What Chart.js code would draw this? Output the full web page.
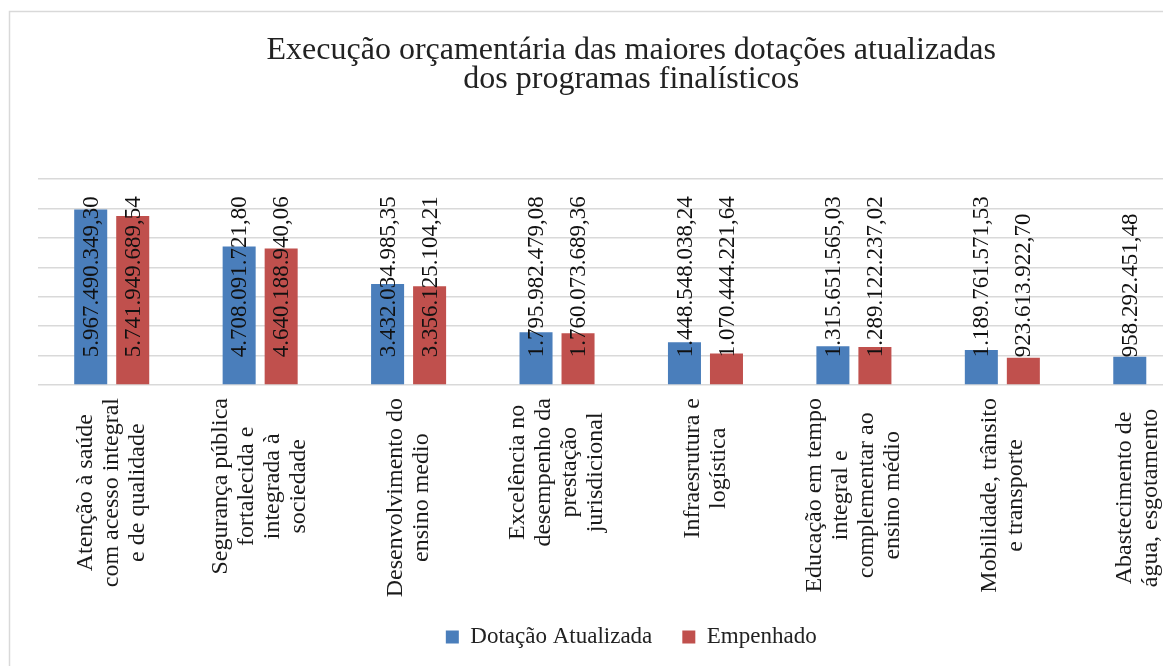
<!DOCTYPE html>
<html>
<head>
<meta charset="utf-8">
<script src="https://cdn.jsdelivr.net/npm/chart.js@4.4.0/dist/chart.umd.min.js"></script>
<style>
    html, body { margin: 0; padding: 0; background: #fff; overflow: hidden; }
    #wrap { position: absolute; left: 0; top: 0; width: 1258px; height: 666px; }
</style>
</head>
<body>
<div id="wrap"><canvas id="chart" width="1258" height="666"></canvas></div>
<script>
// categorias (cada linha do rótulo em separado)
var categories = [
    ['Atenção à saúde', 'com acesso integral', 'e de qualidade'],
    ['Segurança pública', 'fortalecida e', 'integrada à', 'sociedade'],
    ['Desenvolvimento do', 'ensino medio'],
    ['Excelência no', 'desempenho da', 'prestação', 'jurisdicional'],
    ['Infraesrutura e', 'logística'],
    ['Educação em tempo', 'integral e', 'complementar ao', 'ensino médio'],
    ['Mobilidade, trânsito', 'e transporte'],
    ['Abastecimento de', 'água, esgotamento', 'sanitário e drenagem']
];
var dotacao = [5967490349.30, 4708091721.80, 3432034985.35, 1795982479.08, 1448548038.24, 1315651565.03, 1189761571.53, 958292451.48];
var empenhado = [5741949689.54, 4640188940.06, 3356125104.21, 1760073689.36, 1070444221.64, 1289122237.02, 923613922.70, null];
var seriesNames = ['Dotação Atualizada', 'Empenhado'];
var titleLines = ['Execução orçamentária das maiores dotações atualizadas', 'dos programas finalísticos'];
var yMax = 7000000000;
var yStep = 1000000000;

function fmt(v) {
    var parts = v.toFixed(2).split('.');
    return parts[0].replace(/\B(?=(\d{3})+(?!\d))/g, '.') + ',' + parts[1];
}

var serif = '"Liberation Serif", "Times New Roman", serif';
Chart.defaults.font.family = serif;
Chart.defaults.color = '#222';

var frame = {
    id: 'frame',
    beforeDraw: function(chart){
        var ctx = chart.ctx;
        ctx.save();
        ctx.strokeStyle = '#d9d9d9';
        ctx.lineWidth = 1.5;
        ctx.strokeRect(9.5, 11.5, 1400, 800);
        ctx.restore();
    }
};

// rótulos de valor, "base interna", girados
var valueLabels = {
    id: 'valueLabels',
    afterDatasetsDraw: function(chart){
        var ctx = chart.ctx;
        ctx.save();
        ctx.font = '23px ' + serif;
        ctx.fillStyle = '#111';
        ctx.textAlign = 'left';
        ctx.textBaseline = 'middle';
        chart.data.datasets.forEach(function(ds, di){
            chart.getDatasetMeta(di).data.forEach(function(bar, i){
                var v = ds.data[i];
                if (v == null) return;
                ctx.save();
                ctx.translate(bar.x + 1, bar.base - 27);
                ctx.rotate(-Math.PI / 2);
                ctx.fillText(fmt(v), 0, 0);
                ctx.restore();
            });
        });
        ctx.restore();
    }
};

// rótulos das categorias, várias linhas centralizadas
var catLabels = {
    id: 'catLabels',
    afterDraw: function(chart){
        var ctx = chart.ctx, xs = chart.scales.x;
        var top = chart.chartArea.bottom + 13;
        var lh = 26;
        ctx.save();
        ctx.font = '24px ' + serif;
        ctx.fillStyle = '#1a1a1a';
        ctx.textAlign = 'center';
        ctx.textBaseline = 'middle';
        categories.forEach(function(lines, i){
            var x = xs.getPixelForTick(i);
            var maxW = Math.max.apply(null, lines.map(function(l){ return ctx.measureText(l).width; }));
            var cy = top + maxW / 2;
            var n = lines.length;
            lines.forEach(function(line, j){
                ctx.save();
                ctx.translate(x + (j - (n - 1) / 2) * lh, cy);
                ctx.rotate(-Math.PI / 2);
                ctx.fillText(line, 0, 0);
                ctx.restore();
            });
        });
        ctx.restore();
    }
};

new Chart(document.getElementById('chart'), {
    type: 'bar',
    data: {
        labels: categories.map(function(c){ return c.join(' '); }),
        datasets: [{
            label: seriesNames[0],
            data: dotacao,
            backgroundColor: '#4a7ebb',
            categoryPercentage: 0.566,
            barPercentage: 0.786
        }, {
            label: seriesNames[1],
            data: empenhado,
            backgroundColor: '#c0504d',
            categoryPercentage: 0.566,
            barPercentage: 0.786
        }]
    },
    options: {
        responsive: false,
        animation: false,
        layout: { padding: { left: 37.5, right: 33, top: 0, bottom: 7.5 } },
        plugins: {
            title: {
                display: true,
                text: titleLines,
                color: '#222',
                font: { family: serif, size: 32, weight: 'normal', lineHeight: 0.9 },
                padding: { top: 36.5, bottom: 84.9 }
            },
            legend: {
                position: 'bottom',
                labels: {
                    boxWidth: 13,
                    boxHeight: 13,
                    padding: 30,
                    color: '#222',
                    font: { family: serif, size: 23, weight: 'normal' }
                }
            },
            tooltip: { enabled: false }
        },
        scales: {
            x: {
                grid: { display: false },
                border: { display: false },
                ticks: { display: false },
                afterFit: function(scale){ scale.height = 210.5; }
            },
            y: {
                min: 0,
                max: yMax,
                ticks: { display: false, stepSize: yStep },
                grid: { color: '#d9d9d9', lineWidth: 1.5, drawTicks: false },
                border: { display: false }
            }
        }
    },
    plugins: [frame, valueLabels, catLabels]
});
</script>
</body>
</html>
